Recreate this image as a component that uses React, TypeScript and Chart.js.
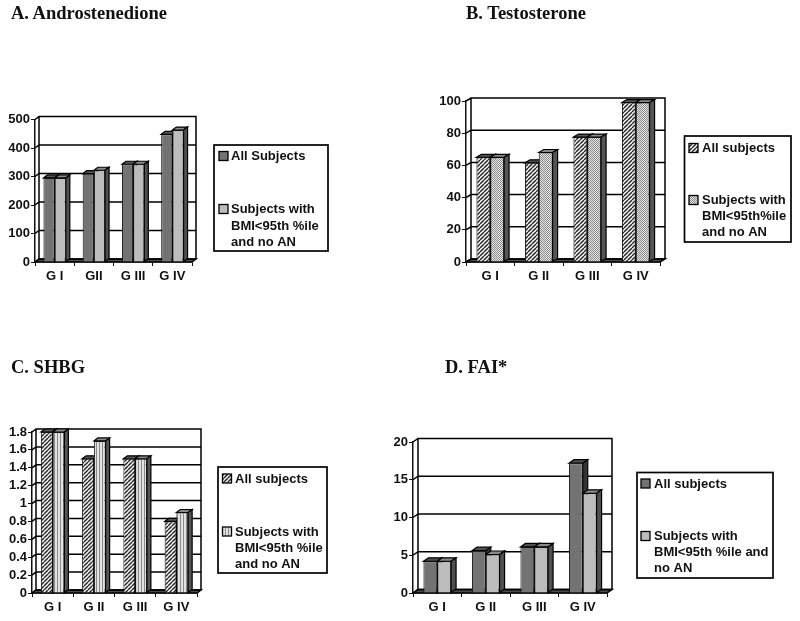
import React, { useEffect, useRef } from "react";
import { Chart, registerables } from "chart.js";

Chart.register(...registerables);

const titleA = "A. Androstenedione";
const titleB = "B. Testosterone";
const titleC = "C. SHBG";
const titleD = "D. FAI*";

const groupsA = ["G I", "GII", "G III", "G IV"];
const groupsB = ["G I", "G II", "G III", "G IV"];

const allA = [295, 310, 343, 448];
const leanA = [295, 322, 343, 463];
const allB = [65, 61.6, 77.6, 99];
const leanB = [65, 68, 77.6, 99];
const allC = [1.8, 1.5, 1.5, 0.8];
const leanC = [1.8, 1.7, 1.5, 0.9];
const allD = [4.2, 5.6, 6.1, 17.2];
const leanD = [4.2, 5.1, 6.1, 13.2];

const legendA = [["All Subjects"], ["Subjects with", "BMI<95th %ile", "and no AN"]];
const legendB = [["All subjects"], ["Subjects with", "BMI<95th%ile", "and no AN"]];
const legendC = [["All subjects"], ["Subjects with", "BMI<95th %ile", "and no AN"]];
const legendD = [["All subjects"], ["Subjects with", "BMI<95th %ile and", "no AN"]];

const FONT = "'Liberation Sans', Arial, sans-serif";

function tile(w: number, h: number, draw: (c: CanvasRenderingContext2D) => void) {
  const cv = document.createElement("canvas");
  cv.width = w;
  cv.height = h;
  const c = cv.getContext("2d")!;
  draw(c);
  return c.createPattern(cv, "repeat")!;
}

function hatch() {
  return tile(4, 4, (c) => {
    c.fillStyle = "#f0f0f0";
    c.fillRect(0, 0, 4, 4);
    c.strokeStyle = "#262626";
    c.lineWidth = 1.35;
    for (const o of [-4, 0, 4]) {
      c.beginPath();
      c.moveTo(o, 4);
      c.lineTo(o + 4, 0);
      c.stroke();
    }
  });
}
function dots() {
  return tile(2, 2, (c) => {
    c.fillStyle = "#e6e6e6";
    c.fillRect(0, 0, 2, 2);
    c.fillStyle = "#8c8c8c";
    c.fillRect(0, 0, 1, 1);
    c.fillRect(1, 1, 1, 1);
  });
}
function stripes() {
  return tile(3, 1, (c) => {
    c.fillStyle = "#e2e2e2";
    c.fillRect(0, 0, 3, 1);
    c.fillStyle = "#8a8a8a";
    c.fillRect(0, 0, 1, 1);
  });
}

type Cfg = {
  title: string;
  titleX: number;
  titleY: number;
  panel: [number, number, number, number];
  plot: { l: number; r: number; t: number; b: number };
  dx: number;
  dy: number;
  labels: string[];
  series: number[][];
  legend: string[][];
  max: number;
  step: number;
  fill: () => (CanvasPattern | string)[];
  top: string[];
  side: string[];
  box: { l: number; r: number; t: number; b: number; sw: number; tx: number; rows: number[][] };
};

const panels: Cfg[] = [
  {
    title: titleA, titleX: 11, titleY: 19, panel: [0, 0, 400, 310],
    plot: { l: 35, r: 192, t: 119.5, b: 262 }, dx: 4, dy: 3,
    labels: groupsA, series: [allA, leanA], legend: legendA, max: 500, step: 100,
    fill: () => ["#737373", "#bcbcbc"], top: ["#555555", "#8a8a8a"], side: ["#3e3e3e", "#505050"],
    box: { l: 214, r: 328, t: 145, b: 251, sw: 219, tx: 231, rows: [[156], [209, 225.5, 241.5]] },
  },
  {
    title: titleB, titleX: 466, titleY: 19, panel: [400, 0, 400, 310],
    plot: { l: 466, r: 660, t: 101, b: 262 }, dx: 5, dy: 3,
    labels: groupsB, series: [allB, leanB], legend: legendB, max: 100, step: 20,
    fill: () => [hatch(), dots()], top: ["#555555", "#8a8a8a"], side: ["#444444", "#555555"],
    box: { l: 684.5, r: 791, t: 136, b: 242, sw: 689, tx: 702, rows: [[148], [200, 216, 232]] },
  },
  {
    title: titleC, titleX: 11, titleY: 373, panel: [0, 310, 380, 311],
    plot: { l: 32, r: 197, t: 432, b: 593 }, dx: 4, dy: 3,
    labels: groupsB, series: [allC, leanC], legend: legendC, max: 1.8, step: 0.2,
    fill: () => [hatch(), stripes()], top: ["#555555", "#8a8a8a"], side: ["#444444", "#555555"],
    box: { l: 218, r: 327, t: 467, b: 573, sw: 222.5, tx: 235, rows: [[478.5], [531.5, 547.5, 563.5]] },
  },
  {
    title: titleD, titleX: 445, titleY: 373, panel: [380, 310, 420, 311],
    plot: { l: 413, r: 607, t: 442, b: 593 }, dx: 5, dy: 3.5,
    labels: groupsB, series: [allD, leanD], legend: legendD, max: 20, step: 5,
    fill: () => ["#737373", "#bcbcbc"], top: ["#505050", "#8a8a8a"], side: ["#343434", "#505050"],
    box: { l: 637, r: 773, t: 472.5, b: 578, sw: 641, tx: 654, rows: [[483.5], [536, 552, 568]] },
  },
];

function makeChart(canvas: HTMLCanvasElement, cfg: Cfg) {
  const [pl, pt, pw, ph] = cfg.panel;
  const fills = cfg.fill();
  const { dx, dy, plot, box } = cfg;
  const yW = 30;
  const xH = 30;

  const frame = {
    id: "frame3d",
    beforeDatasetsDraw(chart: any) {
      const c: CanvasRenderingContext2D = chart.ctx;
      const { y } = chart.scales;
      const L = chart.chartArea.left;
      const R = chart.chartArea.right;
      const T = chart.chartArea.top;
      const B = chart.chartArea.bottom;
      c.save();
      c.strokeStyle = "#000";
      c.lineWidth = 1.5;
      c.fillStyle = "#4a4a4a";
      c.beginPath();
      c.moveTo(L, B);
      c.lineTo(R, B);
      c.lineTo(R + dx, B - dy);
      c.lineTo(L + dx, B - dy);
      c.closePath();
      c.fill();
      c.stroke();
      c.beginPath();
      c.moveTo(L, T);
      c.lineTo(L + dx, T - dy);
      c.lineTo(R + dx, T - dy);
      c.lineTo(R + dx, B - dy);
      c.moveTo(L + dx, T - dy);
      c.lineTo(L + dx, B - dy);
      for (const t of y.ticks) {
        const p = y.getPixelForValue(t.value);
        c.moveTo(L, p);
        c.lineTo(L + dx, p - dy);
        c.lineTo(R + dx, p - dy);
      }
      c.stroke();
      c.lineWidth = 1.2;
      chart.data.datasets.forEach((_: any, i: number) => {
        chart.getDatasetMeta(i).data.forEach((el: any) => {
          const left = el.x - el.width / 2;
          const right = el.x + el.width / 2;
          const top = el.y;
          const bot = el.base;
          c.fillStyle = cfg.top[i];
          c.beginPath();
          c.moveTo(left, top);
          c.lineTo(left + dx, top - dy);
          c.lineTo(right + dx, top - dy);
          c.lineTo(right, top);
          c.closePath();
          c.fill();
          c.stroke();
          c.fillStyle = cfg.side[i];
          c.beginPath();
          c.moveTo(right, top);
          c.lineTo(right + dx, top - dy);
          c.lineTo(right + dx, bot - dy);
          c.lineTo(right, bot);
          c.closePath();
          c.fill();
          c.stroke();
        });
      });
      c.restore();
    },
    afterDraw(chart: any) {
      const c: CanvasRenderingContext2D = chart.ctx;
      c.save();
      c.lineWidth = 1.7;
      c.strokeStyle = "#000";
      c.fillStyle = "#fff";
      c.fillRect(box.l - pl, box.t - pt, box.r - box.l, box.b - box.t);
      c.strokeRect(box.l - pl, box.t - pt, box.r - box.l, box.b - box.t);
      c.font = `bold 13px ${FONT}`;
      c.textBaseline = "middle";
      chart.data.datasets.forEach((ds: any, i: number) => {
        const rows = box.rows[i];
        c.fillStyle = ds.backgroundColor;
        c.lineWidth = 1.3;
        c.fillRect(box.sw - pl, rows[0] - 4.5 - pt, 9, 9);
        c.strokeRect(box.sw - pl, rows[0] - 4.5 - pt, 9, 9);
        c.fillStyle = "#111";
        (ds.legendLines as string[]).forEach((line, k) => {
          c.fillText(line, box.tx - pl, rows[k] - pt + 0.5);
        });
      });
      c.restore();
    },
  };

  return new Chart(canvas, {
    type: "bar",
    data: {
      labels: cfg.labels,
      datasets: cfg.series.map((values, i) => ({
        label: cfg.legend[i].join(" "),
        legendLines: cfg.legend[i],
        data: values,
        backgroundColor: fills[i],
        borderColor: "#111",
        borderWidth: 1,
        categoryPercentage: 0.57,
        barPercentage: 1,
      })) as any,
    },
    plugins: [frame],
    options: {
      animation: false,
      responsive: false,
      layout: {
        padding: {
          left: plot.l - pl - yW,
          right: pl + pw - plot.r,
          top: plot.t - pt,
          bottom: pt + ph - plot.b - xH,
        },
      },
      plugins: { legend: { display: false }, tooltip: { enabled: false }, title: { display: false } },
      scales: {
        x: {
          afterFit: (s: any) => {
            s.height = xH;
          },
          border: { display: true, color: "#111", width: 1.5 },
          grid: { drawOnChartArea: false, drawTicks: true, tickLength: 4, tickColor: "#111", offset: true },
          ticks: { color: "#111", font: { family: FONT, size: 13, weight: "bold" }, padding: 3, maxRotation: 0, autoSkip: false },
        },
        y: {
          min: 0,
          max: cfg.max,
          afterFit: (s: any) => {
            s.width = yW;
          },
          border: { display: true, color: "#111", width: 1.5 },
          grid: { drawOnChartArea: false, drawTicks: true, tickLength: 4, tickColor: "#111" },
          ticks: {
            stepSize: cfg.step,
            autoSkip: false,
            color: "#111",
            font: { family: FONT, size: 13, weight: "bold" },
            padding: 1,
            callback: (v: any) => String(Math.round(Number(v) * 10) / 10),
          },
        },
      },
    } as any,
  });
}

function Panel({ cfg }: { cfg: Cfg }) {
  const ref = useRef<HTMLCanvasElement>(null);
  useEffect(() => {
    const chart = makeChart(ref.current!, cfg);
    return () => chart.destroy();
  }, [cfg]);
  const [l, t, w, h] = cfg.panel;
  return (
    <>
      <canvas
        ref={ref}
        width={w}
        height={h}
        style={{ position: "absolute", left: l, top: t, width: w, height: h, filter: "blur(0.3px)" }}
      />
      <div
        style={{
          position: "absolute",
          left: cfg.titleX,
          top: cfg.titleY - 16,
          font: "bold 18.5px 'Liberation Serif', 'Times New Roman', serif",
          lineHeight: "21px",
          color: "#111",
          whiteSpace: "nowrap",
        }}
      >
        {cfg.title}
      </div>
    </>
  );
}

export default function App() {
  return (
    <div style={{ position: "absolute", left: 0, top: 0, width: 800, height: 621, overflow: "hidden", background: "#fff" }}>
      {panels.map((p) => (
        <Panel key={p.title} cfg={p} />
      ))}
    </div>
  );
}
